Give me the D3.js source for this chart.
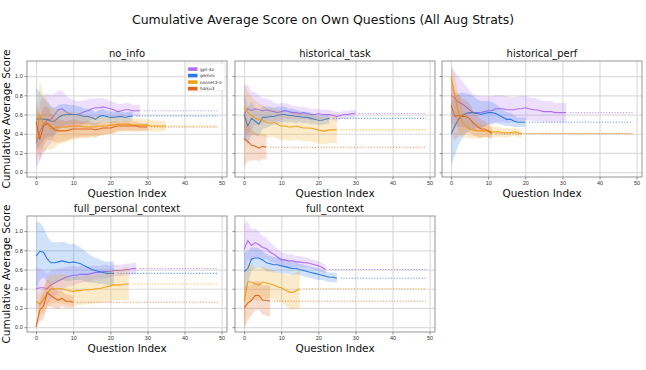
<!DOCTYPE html>
<html lang="en">
<head>
<meta charset="UTF-8">
<title>Cumulative Average Score on Own Questions</title>
<style>
  body { margin: 0; background: #fff; }
  svg { font-family: "DejaVu Sans", sans-serif; display: block; }
  .grid line { stroke: #dcdcdc; stroke-width: 1.2; }
  .grid path { display: none; }
  .axis path { display: none; }
  .axis line { stroke: #888; }
  .axis text { fill: #333; font-size: 5.5px; }
</style>
</head>
<body>
<div id="chart"></div>
<script src="https://d3js.org/d3.v7.min.js"></script>
<script>
// --- data ---
const strategies = ["no_info", "historical_task", "historical_perf", "full_personal_context", "full_context"];
const models = ["gpt-4o", "gemini", "sonnet3-5", "haiku3"];
const modelColors = ["#b16ef4", "#2a7be6", "#f0a214", "#e0661a"];
const xTicks = [0, 10, 20, 30, 40, 50];
const yTicks = [0, 0.2, 0.4, 0.6, 0.8, 1.0];
const lastIndex = 49;

// no_info
const noInfoGpt4o = [0.30, 0.42, 0.50, 0.54, 0.55, 0.60, 0.65, 0.66, 0.63, 0.61, 0.60, 0.60, 0.61, 0.63, 0.64, 0.66, 0.67, 0.67, 0.68, 0.67, 0.66, 0.65, 0.63, 0.64, 0.65, 0.65, 0.64, 0.64, 0.64];
const noInfoGpt4oSpread = [0.25, 0.3, 0.3, 0.28, 0.25, 0.22, 0.2, 0.19, 0.17, 0.16, 0.15, 0.14, 0.13, 0.12, 0.12, 0.11, 0.1, 0.1, 0.09, 0.09, 0.08, 0.08, 0.08, 0.07, 0.07, 0.07, 0.06, 0.06, 0.06];
const noInfoGemini = [0.555, 0.555, 0.55, 0.55, 0.53, 0.53, 0.57, 0.59, 0.60, 0.60, 0.60, 0.60, 0.59, 0.58, 0.58, 0.57, 0.55, 0.58, 0.59, 0.58, 0.57, 0.57, 0.58, 0.58, 0.57, 0.58, 0.585];
const noInfoGeminiSpread = [0.32, 0.28, 0.22, 0.18, 0.16, 0.14, 0.13, 0.12, 0.11, 0.1, 0.1, 0.09, 0.09, 0.08, 0.08, 0.08, 0.07, 0.07, 0.07, 0.06, 0.06, 0.06, 0.06, 0.05, 0.05, 0.05, 0.05];
const noInfoSonnet = [0.35, 0.60, 0.50, 0.50, 0.45, 0.46, 0.47, 0.47, 0.47, 0.48, 0.48, 0.48, 0.48, 0.47, 0.47, 0.47, 0.47, 0.48, 0.48, 0.48, 0.49, 0.49, 0.50, 0.50, 0.50, 0.50, 0.49, 0.49, 0.49, 0.49, 0.49, 0.48, 0.48, 0.48, 0.48, 0.48];
const noInfoSonnetSpread = [0.25, 0.35, 0.3, 0.26, 0.22, 0.2, 0.18, 0.17, 0.16, 0.15, 0.14, 0.14, 0.13, 0.12, 0.12, 0.11, 0.11, 0.1, 0.1, 0.09, 0.09, 0.09, 0.08, 0.08, 0.08, 0.07, 0.07, 0.07, 0.07, 0.06, 0.06, 0.06, 0.06, 0.06, 0.05, 0.05];
const noInfoHaiku = [0.53, 0.34, 0.48, 0.51, 0.48, 0.44, 0.43, 0.43, 0.43, 0.44, 0.45, 0.45, 0.45, 0.45, 0.45, 0.45, 0.44, 0.45, 0.46, 0.46, 0.46, 0.47, 0.48, 0.48, 0.48, 0.48, 0.48, 0.48, 0.47, 0.47, 0.47];
const noInfoHaikuSpread = [0.2, 0.22, 0.2, 0.17, 0.15, 0.13, 0.12, 0.11, 0.1, 0.1, 0.09, 0.09, 0.08, 0.08, 0.08, 0.07, 0.07, 0.07, 0.06, 0.06, 0.06, 0.06, 0.05, 0.05, 0.05, 0.05, 0.05, 0.05, 0.04, 0.04, 0.04];

// historical_task
const histTaskGpt4o = [0.60, 0.66, 0.64, 0.66, 0.65, 0.64, 0.65, 0.64, 0.63, 0.62, 0.63, 0.64, 0.63, 0.62, 0.62, 0.61, 0.62, 0.61, 0.60, 0.60, 0.61, 0.60, 0.60, 0.60, 0.59, 0.58, 0.59, 0.60, 0.60, 0.61, 0.61];
const histTaskGpt4oSpread = [0.3, 0.25, 0.2, 0.17, 0.15, 0.13, 0.12, 0.11, 0.1, 0.09, 0.09, 0.08, 0.08, 0.07, 0.07, 0.07, 0.06, 0.06, 0.06, 0.06, 0.05, 0.05, 0.05, 0.05, 0.05, 0.05, 0.04, 0.04, 0.04, 0.04, 0.04];
const histTaskGemini = [0.60, 0.48, 0.56, 0.53, 0.50, 0.57, 0.57, 0.58, 0.58, 0.59, 0.60, 0.60, 0.59, 0.59, 0.58, 0.58, 0.57, 0.57, 0.56, 0.55, 0.54, 0.54, 0.55, 0.56];
const histTaskGeminiSpread = [0.25, 0.2, 0.17, 0.14, 0.13, 0.12, 0.11, 0.1, 0.09, 0.09, 0.08, 0.08, 0.07, 0.07, 0.07, 0.06, 0.06, 0.06, 0.06, 0.05, 0.05, 0.05, 0.05, 0.05];
const histTaskSonnet = [0.68, 0.62, 0.59, 0.56, 0.55, 0.54, 0.52, 0.51, 0.52, 0.50, 0.48, 0.48, 0.47, 0.47, 0.48, 0.47, 0.46, 0.46, 0.46, 0.45, 0.44, 0.43, 0.43, 0.44, 0.44, 0.44];
const histTaskSonnetSpread = [0.25, 0.22, 0.2, 0.18, 0.17, 0.16, 0.16, 0.15, 0.15, 0.15, 0.15, 0.14, 0.14, 0.14, 0.14, 0.14, 0.14, 0.14, 0.14, 0.14, 0.14, 0.14, 0.14, 0.14, 0.14, 0.14];
const histTaskHaiku = [0.35, 0.32, 0.28, 0.27, 0.25, 0.27, 0.26];
const histTaskHaikuSpread = [0.3, 0.2, 0.16, 0.14, 0.14, 0.13, 0.13];

// historical_perf
const histPerfGpt4o = [0.80, 0.77, 0.73, 0.71, 0.68, 0.65, 0.62, 0.62, 0.62, 0.63, 0.64, 0.64, 0.66, 0.66, 0.66, 0.65, 0.65, 0.65, 0.66, 0.66, 0.67, 0.66, 0.65, 0.65, 0.64, 0.63, 0.63, 0.63, 0.62, 0.62, 0.62, 0.62];
const histPerfGpt4oSpread = [0.3, 0.28, 0.26, 0.24, 0.22, 0.2, 0.19, 0.18, 0.17, 0.16, 0.15, 0.15, 0.14, 0.14, 0.14, 0.14, 0.13, 0.13, 0.13, 0.13, 0.13, 0.12, 0.12, 0.12, 0.11, 0.11, 0.11, 0.11, 0.1, 0.1, 0.1, 0.1];
const histPerfGemini = [0.40, 0.48, 0.55, 0.59, 0.61, 0.62, 0.62, 0.61, 0.60, 0.61, 0.62, 0.62, 0.61, 0.59, 0.57, 0.55, 0.55, 0.53, 0.52, 0.52, 0.52];
const histPerfGeminiSpread = [0.33, 0.3, 0.27, 0.24, 0.21, 0.19, 0.17, 0.15, 0.14, 0.13, 0.12, 0.11, 0.1, 0.09, 0.08, 0.07, 0.07, 0.06, 0.05, 0.05, 0.05];
const histPerfSonnet = [1.00, 0.80, 0.62, 0.52, 0.48, 0.45, 0.44, 0.43, 0.43, 0.43, 0.43, 0.42, 0.42, 0.42, 0.41, 0.41, 0.41, 0.42, 0.41, 0.40];
const histPerfSonnetSpread = [0.1, 0.2, 0.2, 0.15, 0.12, 0.1, 0.09, 0.08, 0.07, 0.07, 0.06, 0.06, 0.05, 0.05, 0.05, 0.05, 0.04, 0.04, 0.04, 0.04];
const histPerfHaiku = [0.70, 0.58, 0.59, 0.58, 0.58, 0.56, 0.51, 0.48, 0.45, 0.45, 0.43, 0.40];
const histPerfHaikuSpread = [0.3, 0.25, 0.22, 0.19, 0.17, 0.15, 0.13, 0.11, 0.1, 0.08, 0.07, 0.06];

// full_personal_context
const fullPersGpt4o = [0.40, 0.41, 0.41, 0.40, 0.44, 0.46, 0.48, 0.50, 0.52, 0.53, 0.54, 0.54, 0.55, 0.55, 0.55, 0.56, 0.57, 0.57, 0.58, 0.58, 0.58, 0.59, 0.59, 0.59, 0.60, 0.60, 0.61, 0.61];
const fullPersGpt4oSpread = [0.22, 0.2, 0.18, 0.16, 0.15, 0.14, 0.13, 0.12, 0.11, 0.1, 0.1, 0.09, 0.09, 0.08, 0.08, 0.08, 0.07, 0.07, 0.07, 0.07, 0.06, 0.06, 0.06, 0.06, 0.06, 0.06, 0.06, 0.06];
const fullPersGemini = [0.74, 0.79, 0.78, 0.71, 0.67, 0.67, 0.68, 0.69, 0.68, 0.67, 0.68, 0.67, 0.66, 0.64, 0.62, 0.60, 0.59, 0.58, 0.57, 0.56, 0.56, 0.56];
const fullPersGeminiSpread = [0.36, 0.3, 0.26, 0.24, 0.22, 0.21, 0.2, 0.2, 0.2, 0.19, 0.19, 0.18, 0.17, 0.16, 0.15, 0.14, 0.13, 0.13, 0.12, 0.12, 0.12, 0.12];
const fullPersSonnet = [0.27, 0.24, 0.29, 0.35, 0.40, 0.40, 0.40, 0.40, 0.39, 0.38, 0.37, 0.38, 0.38, 0.39, 0.39, 0.39, 0.40, 0.40, 0.41, 0.42, 0.43, 0.44, 0.44, 0.44, 0.45, 0.45];
const fullPersSonnetSpread = [0.12, 0.12, 0.14, 0.15, 0.15, 0.15, 0.15, 0.15, 0.15, 0.15, 0.15, 0.15, 0.15, 0.15, 0.15, 0.15, 0.15, 0.15, 0.15, 0.16, 0.16, 0.16, 0.16, 0.16, 0.17, 0.17];
const fullPersHaiku = [0.00, 0.18, 0.22, 0.36, 0.33, 0.30, 0.28, 0.30, 0.27, 0.27, 0.26];
const fullPersHaikuSpread = [0.0, 0.12, 0.14, 0.14, 0.12, 0.1, 0.09, 0.08, 0.07, 0.07, 0.06];

// full_context
const fullCtxGpt4o = [0.81, 0.90, 0.85, 0.88, 0.86, 0.83, 0.82, 0.78, 0.76, 0.73, 0.70, 0.70, 0.69, 0.69, 0.68, 0.68, 0.67, 0.67, 0.66, 0.65, 0.64, 0.62, 0.60];
const fullCtxGpt4oSpread = [0.26, 0.2, 0.17, 0.15, 0.13, 0.12, 0.11, 0.1, 0.09, 0.08, 0.08, 0.07, 0.07, 0.07, 0.06, 0.06, 0.06, 0.05, 0.05, 0.05, 0.05, 0.05, 0.05];
const fullCtxGemini = [0.58, 0.61, 0.71, 0.72, 0.72, 0.70, 0.67, 0.66, 0.65, 0.65, 0.64, 0.63, 0.62, 0.61, 0.61, 0.60, 0.59, 0.58, 0.57, 0.56, 0.55, 0.54, 0.53, 0.52, 0.52, 0.51];
const fullCtxGeminiSpread = [0.2, 0.18, 0.12, 0.11, 0.1, 0.09, 0.09, 0.08, 0.08, 0.08, 0.08, 0.07, 0.07, 0.07, 0.06, 0.06, 0.06, 0.06, 0.06, 0.06, 0.06, 0.05, 0.05, 0.05, 0.05, 0.05];
const fullCtxSonnet = [0.27, 0.47, 0.47, 0.45, 0.44, 0.47, 0.46, 0.45, 0.44, 0.42, 0.41, 0.39, 0.37, 0.36, 0.38, 0.40];
const fullCtxSonnetSpread = [0.27, 0.2, 0.18, 0.17, 0.17, 0.16, 0.16, 0.15, 0.15, 0.15, 0.15, 0.16, 0.17, 0.18, 0.19, 0.2];
const fullCtxHaiku = [0.20, 0.25, 0.28, 0.33, 0.33, 0.28, 0.28, 0.27];
const fullCtxHaikuSpread = [0.22, 0.18, 0.16, 0.15, 0.15, 0.15, 0.16, 0.16];

// table: strategy -> [mean, spread] per model (same order as models)
const panels = [
  [[noInfoGpt4o, noInfoGpt4oSpread], [noInfoGemini, noInfoGeminiSpread], [noInfoSonnet, noInfoSonnetSpread], [noInfoHaiku, noInfoHaikuSpread]],
  [[histTaskGpt4o, histTaskGpt4oSpread], [histTaskGemini, histTaskGeminiSpread], [histTaskSonnet, histTaskSonnetSpread], [histTaskHaiku, histTaskHaikuSpread]],
  [[histPerfGpt4o, histPerfGpt4oSpread], [histPerfGemini, histPerfGeminiSpread], [histPerfSonnet, histPerfSonnetSpread], [histPerfHaiku, histPerfHaikuSpread]],
  [[fullPersGpt4o, fullPersGpt4oSpread], [fullPersGemini, fullPersGeminiSpread], [fullPersSonnet, fullPersSonnetSpread], [fullPersHaiku, fullPersHaikuSpread]],
  [[fullCtxGpt4o, fullCtxGpt4oSpread], [fullCtxGemini, fullCtxGeminiSpread], [fullCtxSonnet, fullCtxSonnetSpread], [fullCtxHaiku, fullCtxHaikuSpread]]
];

// --- layout ---
const W = 646, H = 370;
const colLeft = [27, 235, 442];
const rowTop = [61, 216];
const pw = 200, ph = 116;

const svg = d3.select("#chart").append("svg")
  .attr("width", W).attr("height", H);

svg.append("rect").attr("width", W).attr("height", H).attr("fill", "#fff");

svg.append("text")
  .attr("x", W / 2).attr("y", 24)
  .attr("text-anchor", "middle")
  .style("font-size", "12.5px")
  .attr("fill", "#111")
  .text("Cumulative Average Score on Own Questions (All Aug Strats)");

const x = d3.scaleLinear().domain([-2.45, 51.45]).range([0, pw]);
const y = d3.scaleLinear().domain([-0.05, 1.157]).range([ph, 0]);

strategies.forEach((name, p) => {
  const col = p % 3, row = Math.floor(p / 3);
  const g = svg.append("g").attr("transform", `translate(${colLeft[col]},${rowTop[row]})`);

  g.append("clipPath").attr("id", "clip" + p)
    .append("rect").attr("width", pw).attr("height", ph);

  // grid
  g.append("g").attr("class", "grid")
    .attr("transform", `translate(0,${ph})`)
    .call(d3.axisBottom(x).tickValues(xTicks).tickSize(-ph).tickFormat(""));
  g.append("g").attr("class", "grid")
    .call(d3.axisLeft(y).tickValues(yTicks).tickSize(-pw).tickFormat(""));

  // axes
  g.append("g").attr("class", "axis")
    .attr("transform", `translate(0,${ph})`)
    .call(d3.axisBottom(x).tickValues(xTicks).tickSize(2.5).tickPadding(1.5));
  g.append("g").attr("class", "axis")
    .call(d3.axisLeft(y).tickValues(yTicks).tickSize(2.5).tickPadding(1.8)
      .tickFormat(col === 0 ? d3.format(".1f") : ""));

  const plot = g.append("g").attr("clip-path", `url(#clip${p})`);

  panels[p].forEach(([mean, spread], m) => {
    const color = modelColors[m];
    const pts = mean.map((v, i) => ({ i, v, s: spread[i] }));

    plot.append("path")
      .datum(pts)
      .attr("fill", color)
      .attr("fill-opacity", 0.22)
      .attr("d", d3.area().x(d => x(d.i)).y0(d => y(d.v - d.s)).y1(d => y(d.v + d.s)));

    plot.append("path")
      .datum(pts)
      .attr("fill", "none")
      .attr("stroke", color)
      .attr("stroke-width", 1.1)
      .attr("d", d3.line().x(d => x(d.i)).y(d => y(d.v)));

    const last = mean[mean.length - 1];
    plot.append("path")
      .datum([mean.length, lastIndex])
      .attr("fill", "none")
      .attr("stroke", color)
      .attr("stroke-opacity", 0.75)
      .attr("stroke-width", 1.1)
      .attr("stroke-dasharray", "1.1,1.7")
      .attr("d", d3.line().x(d => x(d)).y(() => y(last)));
  });

  // frame
  g.append("rect")
    .attr("width", pw).attr("height", ph)
    .attr("fill", "none").attr("stroke", "#8a8a8a").attr("stroke-width", 0.9);

  g.append("text")
    .attr("x", pw / 2).attr("y", -4)
    .attr("text-anchor", "middle")
    .style("font-size", "10px")
    .attr("fill", "#111")
    .text(name);

  g.append("text")
    .attr("x", pw / 2).attr("y", ph + 20)
    .attr("text-anchor", "middle")
    .style("font-size", "10.5px")
    .attr("fill", "#111")
    .text("Question Index");

  if (col === 0) {
    g.append("text")
      .attr("transform", `translate(${-17},${ph / 2}) rotate(-90)`)
      .attr("text-anchor", "middle")
      .style("font-size", "10.5px")
      .attr("fill", "#111")
      .text("Cumulative Average Score");
  }

  // legend in the first panel
  if (p === 0) {
    const lg = g.append("g").attr("transform", `translate(${pw - 41},2)`);
    lg.append("rect")
      .attr("width", 39).attr("height", 28).attr("rx", 1.5)
      .attr("fill", "#fff").attr("fill-opacity", 0.85)
      .attr("stroke", "#ddd").attr("stroke-width", 0.6);
    models.forEach((mName, m) => {
      const row = lg.append("g").attr("transform", `translate(2,${4.3 + m * 6.5})`);
      row.append("rect").attr("width", 9.5).attr("height", 3.6).attr("fill", modelColors[m]);
      row.append("text")
        .attr("x", 12).attr("y", 3.2)
        .style("font-size", "4.3px")
        .attr("fill", "#333")
        .text(mName);
    });
  }
});
</script>
</body>
</html>
